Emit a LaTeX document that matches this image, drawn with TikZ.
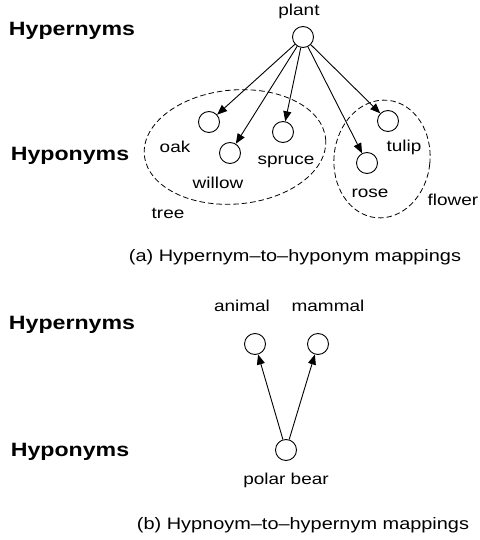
\documentclass[tikz,border=0pt]{standalone}
\usepackage{fontspec}
\setmainfont{Liberation Sans}[FakeStretch=1.2]
\usetikzlibrary{arrows.meta}

\begin{document}
\begin{tikzpicture}[x=1pt,y=-1pt,
  concept/.style={circle,draw,line width=0.9pt,minimum size=21pt,inner sep=0pt},
  lbl/.style={font=\fontsize{15.8}{18}\selectfont,inner sep=0pt},
  level/.style={font=\fontsize{19.3}{22}\selectfont\bfseries,inner sep=0pt},
  caption/.style={font=\fontsize{16.6}{19}\selectfont,inner sep=0pt},
  link/.style={line width=0.9pt,-{Triangle[length=10pt,width=8pt]}},
  group/.style={line width=0.8pt,dash pattern=on 5.5pt off 3pt}]
\useasboundingbox (0,0) rectangle (479,540);

% ---- (a) hypernym to hyponyms ----
\node[level] (hyperA) at (72,31) {Hypernyms};
\node[level] (hypoA) at (70,156) {Hyponyms};

\node[concept] (plant) at (303,37) {};
\node[lbl] (plantL) at (299,11) {plant};

\node[concept] (oak) at (209,122) {};
\node[concept] (willow) at (230,153) {};
\node[concept] (spruce) at (283,132) {};
\node[concept] (rose) at (367,163) {};
\node[concept] (tulip) at (388,121) {};

\node[lbl] (oakL) at (175,147) {oak};
\node[lbl] (willowL) at (218,183) {willow};
\node[lbl] (spruceL) at (286,162) {spruce};
\node[lbl] (roseL) at (370,193) {rose};
\node[lbl] (tulipL) at (404,147) {tulip};
\node[lbl] (treeL) at (168,213) {tree};
\node[lbl] (flowerL) at (453,200) {flower};

\draw[group] (235,147) [rotate around={5:(235,147)}] ellipse [x radius=91, y radius=57];
\draw[group] (382,159) [rotate around={-6:(382,159)}] ellipse [x radius=48, y radius=59];

\foreach \t in {oak,willow,spruce,rose,tulip}
  \draw[link] (plant) -- (\t);

\node[caption] (capA) at (295,257) {(a) Hypernym–to–hyponym mappings};

% ---- (b) hyponym to hypernyms ----
\node[level] (hyperB) at (72,325) {Hypernyms};
\node[level] (hypoB) at (70,452) {Hyponyms};

\node[lbl] (animalL) at (242,306) {animal};
\node[lbl] (mammalL) at (328,306) {mammal};
\node[concept] (animal) at (255,344) {};
\node[concept] (mammal) at (318,344) {};
\node[concept] (bear) at (286,450) {};
\node[lbl] (bearL) at (286,480) {polar bear};

\draw[link] (bear) -- (animal);
\draw[link] (bear) -- (mammal);

\node[caption] (capB) at (303,525) {(b) Hypnoym–to–hypernym mappings};
\end{tikzpicture}
\end{document}
